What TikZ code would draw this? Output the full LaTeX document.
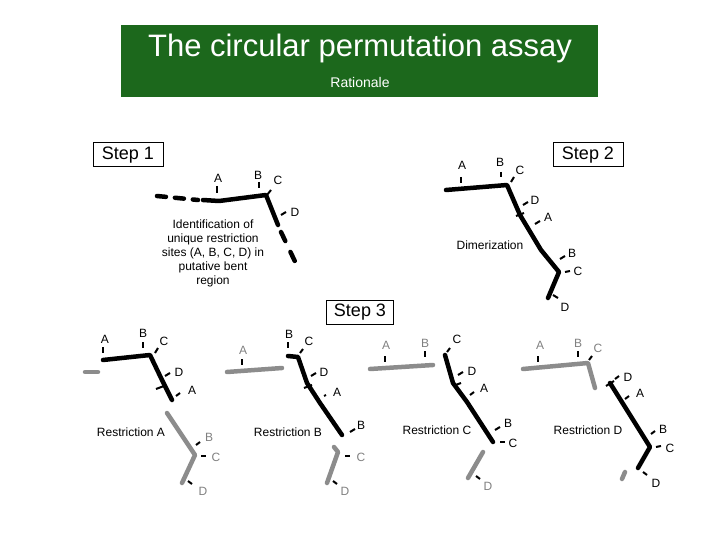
\documentclass[tikz,border=0pt]{standalone}
\usepackage{fontspec}
\setmainfont{Liberation Sans}
\begin{document}
\begin{tikzpicture}[x=1pt,y=-1pt,
  dna/.style={line width=4.5pt,line join=round,line cap=round},
  gdna/.style={dna,draw=gray!90},
  tk/.style={line width=2pt},
  gtk/.style={tk},
  lbl/.style={font=\fontsize{12}{13}\selectfont,inner sep=0pt},
  glbl/.style={lbl,text=gray},
  stepbox/.style={draw,line width=1pt,font=\fontsize{18}{20}\selectfont,inner sep=3pt,minimum width=70pt,minimum height=24pt},
  captxt/.style={font=\fontsize{12}{14}\selectfont,align=center,inner sep=0pt}]
\useasboundingbox (0,0) rectangle (720,540);
\fill[fill={rgb,255:red,28;green,104;blue,28}] (121,25) rectangle (598,97);
\node[text=white,font=\fontsize{31}{34}\selectfont] (title) at (360,48) {The circular permutation assay};
\node[text=white,font=\fontsize{14}{16}\selectfont] (rat) at (360,82) {Rationale};
\node[stepbox] (s1) at (128,155) {Step 1};
\node[stepbox] (s2) at (588,155) {Step 2};
\node[stepbox,minimum width=67pt] (s3) at (360,312) {Step 3};
% Step 1
\draw[dna,dash pattern=on 9pt off 9pt] (157,196) -- (198,200);
\draw[dna] (203,200) -- (219,201) -- (266,195) -- (278,225);
\draw[dna,dash pattern=on 10pt off 12pt] (281,232) -- (299,270);
\draw[tk] (217,186) -- (217,193);
\draw[tk] (259,182) -- (259,188);
\draw[tk] (267,195) -- (271,190);
\draw[tk] (281,215) -- (286,212);
\node[lbl] (a1) at (218,178) {A};
\node[lbl] (b1) at (258,175) {B};
\node[lbl] (c1) at (278,180) {C};
\node[lbl] (d1) at (295,212) {D};
\node[captxt] (id) at (213,253) {Identification of\\unique restriction\\sites (A, B, C, D) in\\putative bent\\region};
% Step 2
\draw[dna] (446,190) -- (507,185) -- (520,215) -- (541,250) -- (559,272) -- (548,298);
\draw[tk] (461,177) -- (461,183);
\draw[tk] (501,172) -- (501,177);
\draw[tk] (511,182) -- (514,177);
\draw[tk] (523,205) -- (528,202);
\draw[tk] (516,216) -- (524,213);
\draw[tk] (535,224) -- (540,221);
\draw[tk] (560,259) -- (565,256);
\draw[tk] (565,272) -- (570,271);
\draw[tk] (553,295) -- (558,298);
\node[lbl] (a2) at (462,165) {A};
\node[lbl] (b2) at (500,162) {B};
\node[lbl] (c2) at (520,170) {C};
\node[lbl] (d2) at (535,200) {D};
\node[lbl] (a2b) at (548,217) {A};
\node[lbl] (b2b) at (572,253) {B};
\node[lbl] (c2b) at (578,271) {C};
\node[lbl] (d2b) at (565,307) {D};
\node[captxt] (dim) at (490,245) {Dimerization};
% Panel A
\draw[gdna] (85,372) -- (98,372);
\draw[dna] (103,360) -- (150,355) -- (162,380) -- (172,400);
\draw[tk] (103,347) -- (103,353);
\draw[tk] (143,342) -- (143,348);
\draw[tk] (155,353) -- (158,348);
\draw[tk] (165,376) -- (170,373);
\draw[tk] (156,389) -- (164,386);
\draw[tk] (176,396) -- (180,393);
\node[lbl] (pa1) at (105,339) {A};
\node[lbl] (pb1) at (143,333) {B};
\node[lbl] (pc1) at (164,341) {C};
\node[lbl] (pd1) at (179,372) {D};
\node[lbl] (pa2) at (192,390) {A};
\draw[gdna] (167,413) -- (195,455) -- (182,483);
\draw[gtk] (196,445) -- (200,442);
\draw[gtk] (201,456) -- (206,456);
\draw[gtk] (188,481) -- (192,484);
\node[glbl] (pb2) at (209,437) {B};
\node[glbl] (pc2) at (216,457) {C};
\node[glbl] (pd2) at (203,491) {D};
\node[captxt] (ra) at (131,432) {Restriction A};
% Panel B
\draw[gdna] (227,372) -- (282,368);
\draw[gtk] (242,359) -- (242,365);
\node[glbl] (qa1) at (243,350) {A};
\draw[dna] (288,356) -- (298,357) -- (307,383) -- (320,403) -- (342,435);
\draw[tk] (288,342) -- (288,348);
\draw[tk] (300,353) -- (303,349);
\draw[tk] (311,376) -- (316,373);
\draw[tk] (304,388) -- (312,385);
\draw[tk] (324,396) -- (326,395);
\draw[tk] (350,432) -- (355,429);
\node[lbl] (qb1) at (289,334) {B};
\node[lbl] (qc1) at (309,341) {C};
\node[lbl] (qd1) at (324,372) {D};
\node[lbl] (qa2) at (337,392) {A};
\node[lbl] (qb2) at (361,425) {B};
\draw[gdna] (334,447) -- (338,452) -- (327,483);
\draw[gtk] (345,456) -- (350,456);
\draw[gtk] (333,481) -- (337,484);
\node[glbl] (qc2) at (361,457) {C};
\node[glbl] (qd2) at (345,491) {D};
\node[captxt] (rb) at (288,432) {Restriction B};
% Panel C
\draw[gdna] (370,369) -- (433,365);
\draw[gtk] (385,356) -- (385,362);
\draw[gtk] (425,351) -- (425,357);
\node[glbl] (ra1) at (386,345) {A};
\node[glbl] (rb1) at (425,343) {B};
\draw[dna] (445,355) -- (453,383) -- (467,402) -- (493,442);
\draw[tk] (447,352) -- (450,348);
\draw[tk] (458,375) -- (463,372);
\draw[tk] (453,386) -- (461,383);
\draw[tk] (470,395) -- (474,392);
\draw[tk] (495,430) -- (500,427);
\draw[tk] (500,442) -- (505,442);
\node[lbl] (rc1) at (457,339) {C};
\node[lbl] (rd1) at (472,371) {D};
\node[lbl] (ra2) at (484,388) {A};
\node[lbl] (rb2) at (508,423) {B};
\node[lbl] (rc2) at (513,443) {C};
\draw[gdna] (483,452) -- (468,478);
\draw[gtk] (476,476) -- (480,479);
\node[glbl] (rd2) at (488,486) {D};
\node[captxt] (rc) at (437,430) {Restriction C};
% Panel D
\draw[gdna] (523,369) -- (588,363) -- (595,388);
\draw[gtk] (538,356) -- (538,362);
\draw[gtk] (578,351) -- (578,357);
\draw[gtk] (589,360) -- (592,356);
\node[glbl] (sa1) at (540,345) {A};
\node[glbl] (sb1) at (578,343) {B};
\node[glbl] (sc1) at (598,348) {C};
\draw[dna] (610,383) -- (650,447) -- (638,468);
\draw[tk] (606,386) -- (614,381);
\draw[tk] (615,379) -- (619,376);
\draw[tk] (625,399) -- (629,396);
\draw[tk] (651,434) -- (655,431);
\draw[tk] (656,447) -- (661,446);
\draw[tk] (643,472) -- (647,475);
\node[lbl] (sd1) at (628,377) {D};
\node[lbl] (sa2) at (640,393) {A};
\node[lbl] (sb2) at (663,429) {B};
\node[lbl] (sc2) at (670,448) {C};
\node[lbl] (sd2) at (656,483) {D};
\draw[gdna] (625,472) -- (622,479);
\node[captxt] (rd) at (588,430) {Restriction D};
\end{tikzpicture}
\end{document}
